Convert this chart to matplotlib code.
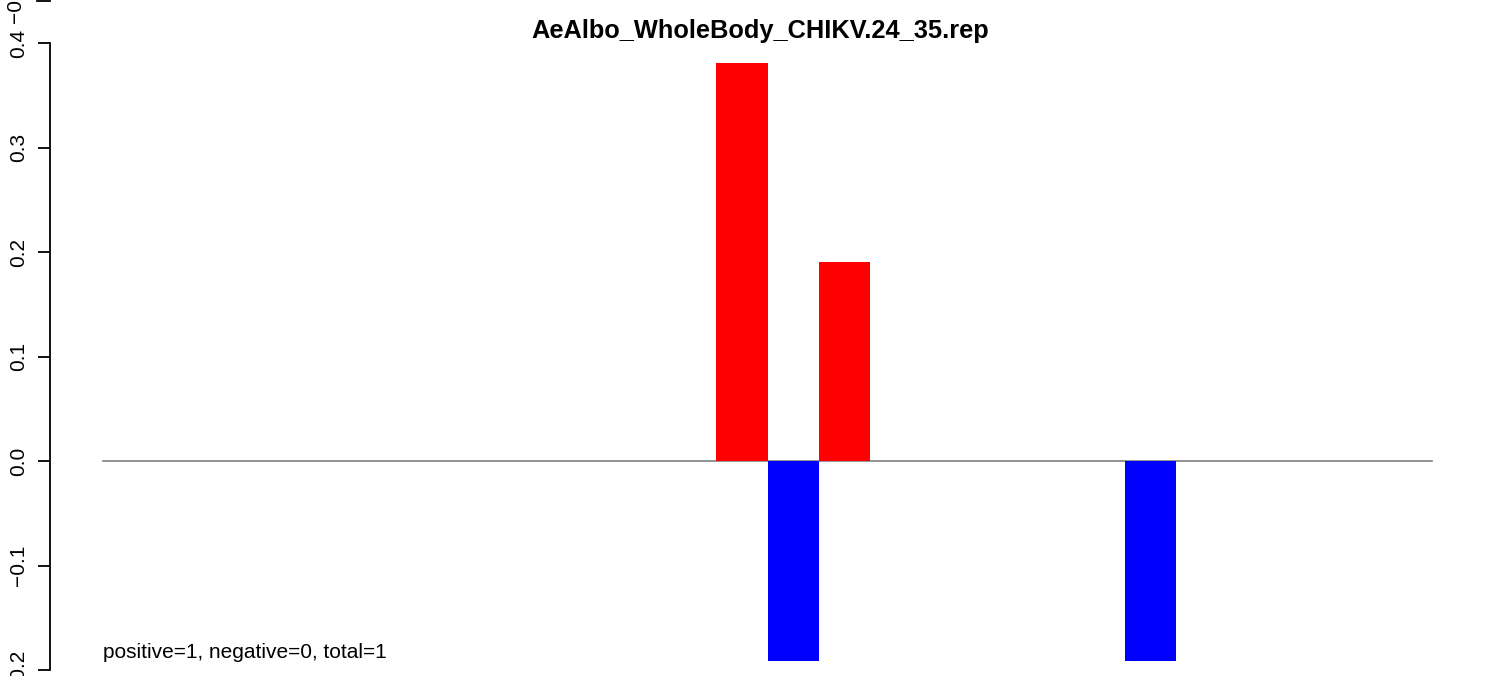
import matplotlib
matplotlib.use("Agg")
import matplotlib.pyplot as plt
from matplotlib.lines import Line2D

plt.rcParams['font.family'] = ['Liberation Sans', 'DejaVu Sans']

# chart data
title = "AeAlbo_WholeBody_CHIKV.24_35.rep"
n_slots = 26
pos_slots = [12, 14]
pos_vals = [0.381, 0.190]
neg_slots = [13, 20]
neg_vals = [-0.191, -0.191]
y_ticks = [-0.2, -0.1, 0.0, 0.1, 0.2, 0.3, 0.4]
note = "positive=1, negative=0, total=1"

W, H = 1506, 676
fig = plt.figure(figsize=(W / 100, H / 100), dpi=100)

# plot region in pixels (R style, 4% padding on x)
x0, x1 = 50, 1485
ylo, yhi = -0.224, 0.424
px_per_unit = 1045.0
y_top = 461 - yhi * px_per_unit
y_bot = 461 - ylo * px_per_unit
ax = fig.add_axes([x0 / W, 1 - y_bot / H, (x1 - x0) / W, (y_bot - y_top) / H])
pad = n_slots * 0.04
ax.set_xlim(-pad, n_slots + pad)
ax.set_ylim(ylo, yhi)

# zero line then bars
ax.plot([0, n_slots], [0, 0], color='#808080', lw=1.2, zorder=1)
ax.bar(pos_slots, pos_vals, width=1, align='edge', color='#FF0000', linewidth=0, zorder=2)
ax.bar(neg_slots, neg_vals, width=1, align='edge', color='#0000FF', linewidth=0, zorder=2)

# axes styling like base R
for s in ['top', 'right', 'bottom']:
    ax.spines[s].set_visible(False)
ax.spines['left'].set_bounds(y_ticks[0], y_ticks[-1])
ax.spines['left'].set_linewidth(1.3)
ax.set_xticks([])
ax.set_yticks(y_ticks)
ax.set_yticklabels([f"{t:.1f}".replace('-', '\u2212') for t in y_ticks],
                   rotation=90, va='center', fontsize=15)
ax.tick_params(axis='y', length=9, width=1.3, pad=7)

ax.set_title(title, fontsize=18.3, fontweight='bold', pad=0, y=1.0)
ax.title.set_position((0.495, 1 - (38 - y_top) / (y_bot - y_top)))
ax.title.set_va('baseline')

ax.text(0, -0.183, note, ha='left', va='center', fontsize=15)

# stray partial tick at the very top edge (label runs off the top)
fig.add_artist(Line2D([37 / W, 50 / W], [1 - 1 / H, 1 - 1 / H], color='black', lw=1.3))
fig.text(15 / W, 1 - 23 / H, "\u22120.1", rotation=90, ha='center', va='bottom', fontsize=15)

fig.savefig("out.png", dpi=100)
